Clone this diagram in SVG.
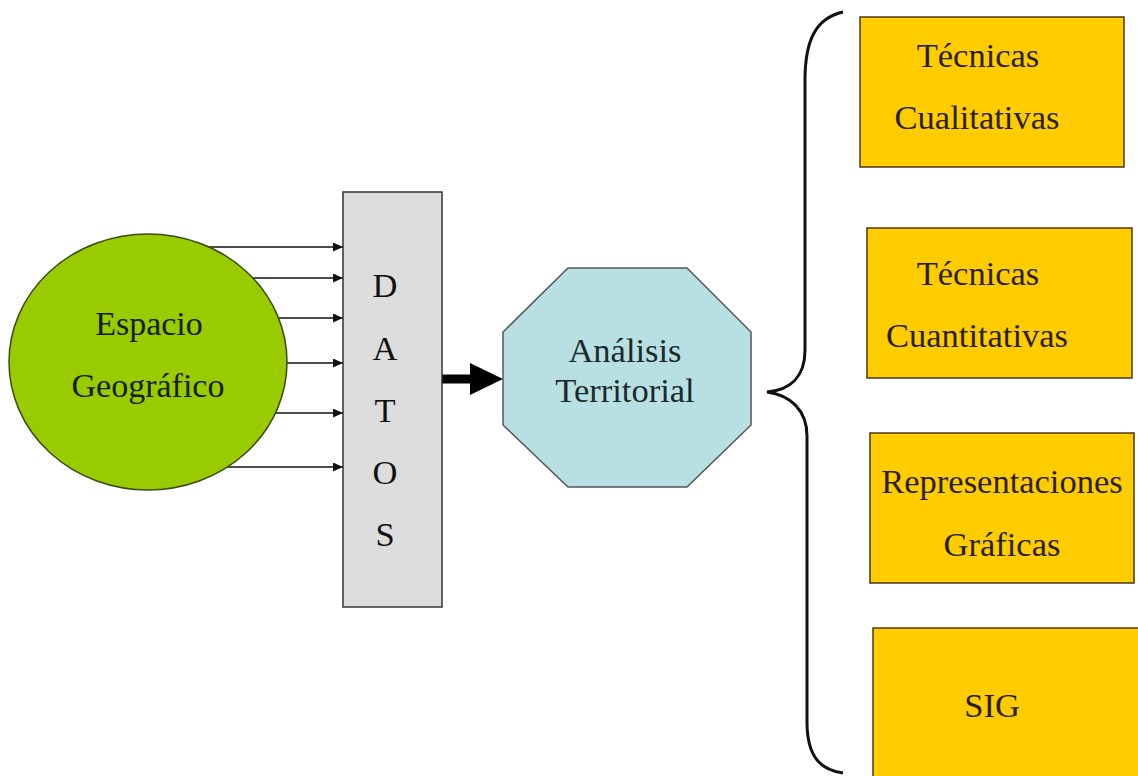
<svg xmlns="http://www.w3.org/2000/svg" width="1138" height="776" viewBox="0 0 1138 776">
<defs>
<style>
.t{font-family:"Liberation Serif","Times New Roman",serif;font-size:34.5px;text-anchor:middle}
.box{fill:#ffcc00;stroke:#4a3a10;stroke-width:1.5}
.bt{fill:#2a1f05}
.ln{stroke:#111;stroke-width:1.3;fill:none}
</style>
<marker id="ah" markerWidth="10" markerHeight="9" refX="10" refY="4.5" orient="auto" markerUnits="userSpaceOnUse">
<path d="M0,0 L10,4.5 L0,9 Z" fill="#111"/>
</marker>
</defs>
<rect width="1138" height="776" fill="#fff"/>
<g id="connectors">
<line class="ln" x1="200" y1="247" x2="343" y2="247" marker-end="url(#ah)"/>
<line class="ln" x1="200" y1="278" x2="343" y2="278" marker-end="url(#ah)"/>
<line class="ln" x1="200" y1="318" x2="343" y2="318" marker-end="url(#ah)"/>
<line class="ln" x1="200" y1="363" x2="343" y2="363" marker-end="url(#ah)"/>
<line class="ln" x1="200" y1="413" x2="343" y2="413" marker-end="url(#ah)"/>
<line class="ln" x1="200" y1="467" x2="343" y2="467" marker-end="url(#ah)"/>
<path d="M442,374.5 L470,374.5 L470,363 L503,379 L470,395 L470,383.5 L442,383.5 Z" fill="#000"/>
<path d="M843,12 C816,18 805,40 805,80 L805,350 C805,377 790,390 767,392 C790,395 807,410 807,436 L807,722 C807,756 820,770 843,773" fill="none" stroke="#111" stroke-width="3"/>
</g>
<g id="espacio">
<ellipse cx="148" cy="362" rx="139" ry="128" fill="#99cc00" stroke="#3a4a18" stroke-width="1.5"/>
<text class="t" x="149" y="335" fill="#132000" style="font-size:34px">Espacio</text>
<text class="t" x="148" y="397" fill="#132000" style="font-size:34px">Geográfico</text>
</g>
<g id="datos">
<rect x="343" y="192" width="99" height="415" fill="#dddddd" stroke="#333" stroke-width="1.5"/>
<text class="t" x="385" y="297" fill="#111">D</text>
<text class="t" x="385" y="360" fill="#111">A</text>
<text class="t" x="385" y="422" fill="#111">T</text>
<text class="t" x="385" y="484" fill="#111">O</text>
<text class="t" x="385" y="546" fill="#111">S</text>
</g>
<g id="analisis">
<polygon points="568,268 687,268 751,332 751,425 687,487 568,487 503,425 503,332" fill="#b8dfe2" stroke="#555" stroke-width="1.5"/>
<text class="t" x="625" y="362" fill="#1a2a2a">Análisis</text>
<text class="t" x="625" y="402" fill="#1a2a2a">Territorial</text>
</g>
<g id="cualitativas">
<rect class="box" x="860" y="17" width="264" height="150"/>
<text class="t bt" x="978" y="67">Técnicas</text>
<text class="t bt" x="977" y="129">Cualitativas</text>
</g>
<g id="cuantitativas">
<rect class="box" x="867" y="228" width="265" height="150"/>
<text class="t bt" x="978" y="285">Técnicas</text>
<text class="t bt" x="977" y="347">Cuantitativas</text>
</g>
<g id="representaciones">
<rect class="box" x="870" y="433" width="264" height="150"/>
<text class="t bt" x="1002" y="493">Representaciones</text>
<text class="t bt" x="1002" y="556">Gráficas</text>
</g>
<g id="sig">
<rect class="box" x="873" y="628" width="272" height="160"/>
<text class="t bt" x="992" y="717">SIG</text>
</g>
</svg>
